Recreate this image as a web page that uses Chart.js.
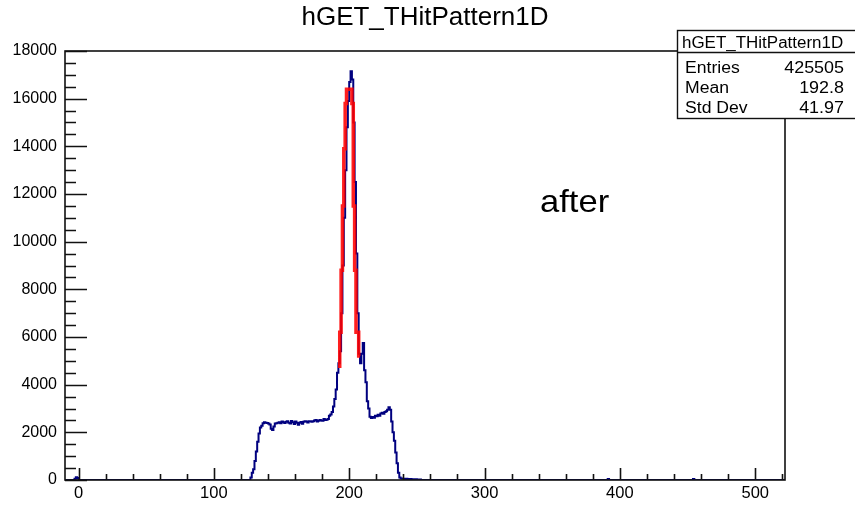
<!DOCTYPE html>
<html>
<head>
<meta charset="utf-8">
<title>hGET_THitPattern1D</title>
<script src="https://cdn.jsdelivr.net/npm/chart.js@4/dist/chart.umd.min.js"></script>
<style>
  html, body { margin: 0; padding: 0; background: #fff; }
  #hist { display: block; }
</style>
</head>
<body>
<canvas id="hist" width="855" height="505"></canvas>
<script>
/* ── histogram contents (bins of width 1) ── */
const histName = 'hGET_THitPattern1D';
const xMin = -10, xMax = 522;
const yMin = 0, yMax = 18000;
const xTicks = [0, 100, 200, 300, 400, 500];
const yTicks = [0, 2000, 4000, 6000, 8000, 10000, 12000, 14000, 16000, 18000];

/* small bump just below 0 */
const lowStart  = -3;
const lowCounts = [50, 120, 80];

/* main structure, first bin low edge = mainStart */
const mainStart  = 127;
const mainCounts = [
  100, 300, 450, 800, 1200, 1600, 1950, 2200, 2280, 2380,   // 127-136
  2420, 2400, 2390, 2370, 2330, 2150, 2100, 2250, 2370, 2380, // 137-146
  2400, 2420, 2380, 2450, 2420, 2390, 2440, 2470, 2400, 2370, // 147-156
  2480, 2420, 2350, 2450, 2400, 2320, 2400, 2430, 2360, 2440, // 157-166
  2460, 2450, 2410, 2470, 2460, 2440, 2460, 2500, 2520, 2450, // 167-176
  2490, 2520, 2500, 2490, 2560, 2520, 2530, 2560, 2700, 2750, // 177-186
  2850, 3080, 3400, 3800, 4500, 4900, 5400, 7000, 9000, 11000, // 187-196
  13000, 14800, 15900, 16700, 17150, 16800, 15000, 12500, 9500, 7000, // 197-206
  5300, 4900, 5300, 5750, 4600, 4100, 3300, 3000, 2650, 2600, // 207-216
  2640, 2610, 2700, 2680, 2740, 2700, 2790, 2820, 2780, 2850, // 217-226
  2880, 2950, 3050, 2950, 2450, 2000, 1650, 1150, 700, 300,   // 227-236
  100, 60, 50, 50, 40, 50, 40, 30, 40, 30,                    // 237-246
  30, 20, 30, 20, 20, 20                                      // 247-252
];

/* isolated single entries far out */
const strayBins   = [391, 454];
const strayCounts = [40, 40];

/* gaussian fit (red), x where each step rises/falls and the level after it */
const fitX = [193, 193, 194, 195, 196, 197, 198, 202, 203, 204, 205, 207, 208];
const fitY = [4700, 6200, 8800, 11500, 13900, 15800, 16400, 15800, 11500, 8800, 6200, 5200, 5200];

/* stats box */
const statsLabels = ['Entries', 'Mean', 'Std Dev'];
const statsValues = ['425505', '192.8', '41.97'];
const padLabel = 'after';

/* ── build step points ── */
function pushRun (pts, start, counts) {
  counts.forEach((c, i) => pts.push({ x: start + i, y: c }));
  pts.push({ x: start + counts.length, y: 0 });
}
const histPoints = [{ x: xMin, y: 0 }];
pushRun(histPoints, lowStart, lowCounts);
pushRun(histPoints, mainStart, mainCounts);
strayBins.forEach((b, i) => pushRun(histPoints, b, [strayCounts[i]]));
histPoints.push({ x: xMax, y: 0 });

const fitPoints = fitX.map((x, i) => ({ x, y: fitY[i] }));

/* ── ROOT-like frame, inward ticks, stats box ── */
const FONT = "'Liberation Sans', Arial, Helvetica, sans-serif";

function stretchedText (ctx, text, x, y, align, sx) {
  ctx.save();
  ctx.translate(x, y);
  ctx.scale(sx, 1);
  ctx.textAlign = align;
  ctx.textBaseline = 'alphabetic';
  ctx.fillText(text, 0, 0);
  ctx.restore();
}

const rootFrame = {
  id: 'rootFrame',
  afterDatasetsDraw (chart) {
    const { ctx, chartArea: a, scales: { x, y } } = chart;
    ctx.save();
    ctx.strokeStyle = '#111';
    ctx.lineWidth = 1.6;

    /* x ticks: major every 100, minor every 20 */
    ctx.beginPath();
    for (let v = 0; v <= xMax; v += 20) {
      const px = Math.round(x.getPixelForValue(v)) + 0.5;
      const len = v % 100 === 0 ? 12 : 6;
      ctx.moveTo(px, a.bottom);
      ctx.lineTo(px, a.bottom - len);
    }
    /* y ticks: major every 2000, minor every 500 */
    for (let v = 0; v <= yMax; v += 500) {
      const py = Math.round(y.getPixelForValue(v)) + 0.5;
      const len = v % 2000 === 0 ? 22 : 11;
      ctx.moveTo(a.left, py);
      ctx.lineTo(a.left + len, py);
    }
    ctx.stroke();

    /* frame */
    ctx.strokeRect(a.left, a.top, a.right - a.left, a.bottom - a.top);

    /* pad label */
    ctx.fillStyle = '#000';
    ctx.font = '32px ' + FONT;
    stretchedText(ctx, padLabel, 540, 212, 'left', 1.08);

    /* stats box */
    const bx = 677, by = 30, bw = 200, bh = 88;
    ctx.fillStyle = '#fff';
    ctx.fillRect(bx, by, bw, bh);
    ctx.lineWidth = 1.4;
    ctx.strokeRect(bx + 0.5, by + 0.5, bw, bh);
    ctx.beginPath();
    ctx.moveTo(bx, by + 22.5);
    ctx.lineTo(bx + bw, by + 22.5);
    ctx.stroke();

    ctx.fillStyle = '#000';
    ctx.font = '16px ' + FONT;
    stretchedText(ctx, histName, 682, 47.5, 'left', 1.06);
    const rowY = [72.5, 93, 113];
    statsLabels.forEach((lab, i) => {
      stretchedText(ctx, lab, 685, rowY[i], 'left', 1.1);
      stretchedText(ctx, statsValues[i], 844, rowY[i], 'right', 1.12);
    });
    ctx.restore();
  }
};

/* ── chart ── */
const ctx = document.getElementById('hist').getContext('2d');
const histChart = new Chart(ctx, {
  type: 'line',
  data: {
    datasets: [
      { label: 'fit',  data: fitPoints,  borderColor: 'rgba(255,0,0,0.88)', borderWidth: 3.5,
        stepped: 'before', pointRadius: 0, fill: false },
      { label: 'hist', data: histPoints, borderColor: '#00007f', borderWidth: 2,
        stepped: 'before', pointRadius: 0, fill: false }
    ]
  },
  options: {
    responsive: false,
    animation: false,
    devicePixelRatio: 1,
    layout: { padding: { left: 0, right: 70, top: 0, bottom: 0 } },
    plugins: {
      legend:  { display: false },
      tooltip: { enabled: false },
      title: {
        display: true, text: histName, fullSize: false, color: '#000',
        font: { family: FONT, size: 26, weight: 'normal' },
        padding: { top: 2, bottom: 17.8 }
      }
    },
    scales: {
      x: {
        type: 'linear', min: xMin, max: xMax,
        afterBuildTicks: s => { s.ticks = xTicks.map(v => ({ value: v })); },
        afterFit: s => { s.height = 25; },
        grid: { display: false, drawTicks: false },
        border: { display: false },
        ticks: { padding: 4, color: '#000', autoSkip: false, maxRotation: 0,
                 callback: v => String(v),
                 font: { family: FONT, size: 16.5 } }
      },
      y: {
        type: 'linear', min: yMin, max: yMax,
        afterBuildTicks: s => { s.ticks = yTicks.map(v => ({ value: v })); },
        afterFit: s => { s.width = 65; },
        grid: { display: false, drawTicks: false },
        border: { display: false },
        ticks: { padding: 8, color: '#000', autoSkip: false,
                 callback: v => String(v),
                 font: { family: FONT, size: 16 } }
      }
    }
  },
  plugins: [rootFrame]
});
</script>
</body>
</html>
